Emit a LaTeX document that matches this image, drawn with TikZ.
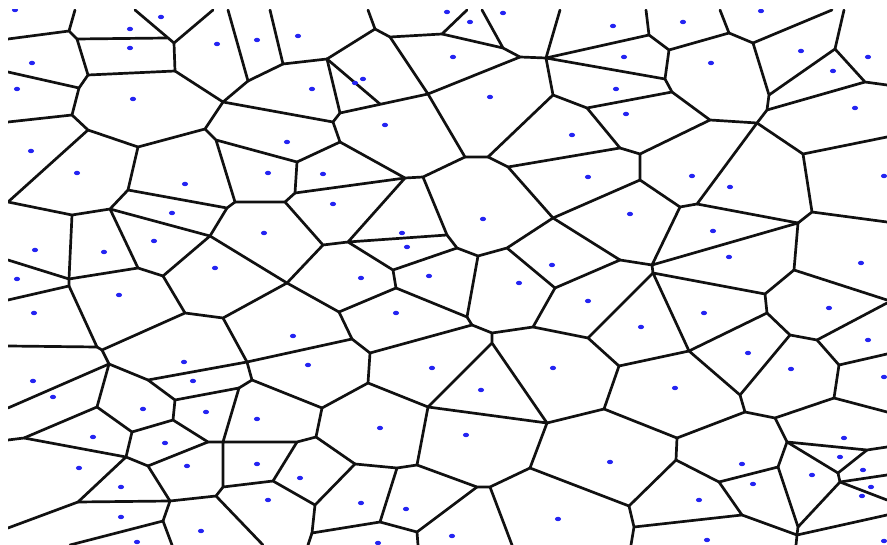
\documentclass[tikz,border=0pt]{standalone}
\usepackage{xcolor}
\usepackage{tikz}
\definecolor{wallInk}{HTML}{111111}
\definecolor{seedBlue}{HTML}{2424F2}
\tikzset{
  cellwall/.style={draw=wallInk, line width=2.3pt, line join=round, line cap=round},
  seed/.style={fill=seedBlue},
}
\begin{document}
\begin{tikzpicture}[x=0.03cm, y=-0.03cm]
  \useasboundingbox[fill=white] (0,0) rectangle (887,545);
  \begin{scope}
    \clip (8,10) rectangle (887,545);
    % upper left cells
    \draw[cellwall] (75,10) -- (69,31);
    \draw[cellwall] (8,39) -- (69,31) -- (77,39) -- (88,75) -- (79,88) -- (72,115) -- (88,130) -- (138,147) -- (205,129) -- (223,102) -- (248,81) -- (283,64) -- (327,59);
    \draw[cellwall] (77,39) -- (167,38);
    \draw[cellwall] (135,10) -- (174,43) -- (213,10);
    \draw[cellwall] (174,43) -- (175,71) -- (223,102);
    \draw[cellwall] (88,75) -- (175,71);
    \draw[cellwall] (8,72) -- (79,88);
    \draw[cellwall] (8,122) -- (72,115);
    \draw[cellwall] (228,10) -- (248,81);
    \draw[cellwall] (270,10) -- (283,64);
    \draw[cellwall] (223,102) -- (333,122);
    \draw[cellwall] (205,129) -- (216,140) -- (235,202) -- (285,202) -- (295,193) -- (297,162) -- (216,140);
    \draw[cellwall] (88,130) -- (8,202) -- (72,215) -- (110,209) -- (128,190) -- (138,147);
    \draw[cellwall] (128,190) -- (227,208) -- (235,202);
    \draw[cellwall] (227,208) -- (210,236) -- (110,209);
    \draw[cellwall] (210,236) -- (163,276);
    \draw[cellwall] (210,236) -- (287,283);
    \draw[cellwall] (110,209) -- (138,268) -- (163,276);
    \draw[cellwall] (72,215) -- (69,279) -- (69,286);
    \draw[cellwall] (8,260) -- (69,279) -- (138,268);
    \draw[cellwall] (163,276) -- (185,313);
    % upper middle cells
    \draw[cellwall] (368,10) -- (375,29) -- (327,59);
    \draw[cellwall] (375,29) -- (390,37) -- (442,34) -- (467,10);
    \draw[cellwall] (442,34) -- (503,48) -- (520,57) -- (546,58) -- (560,10);
    \draw[cellwall] (482,10) -- (503,48);
    \draw[cellwall] (546,58) -- (649,35);
    \draw[cellwall] (546,58) -- (665,79);
    \draw[cellwall] (546,58) -- (553,95) -- (587,108) -- (672,92);
    \draw[cellwall] (587,108) -- (620,148) -- (508,167);
    \draw[cellwall] (553,95) -- (488,157) -- (508,167) -- (553,218);
    \draw[cellwall] (390,37) -- (428,94) -- (520,57);
    \draw[cellwall] (428,94) -- (465,157) -- (488,157);
    \draw[cellwall] (327,59) -- (340,113) -- (428,94);
    \draw[cellwall] (327,59) -- (380,104);
    \draw[cellwall] (340,113) -- (333,122) -- (340,142) -- (297,162);
    \draw[cellwall] (340,142) -- (405,178) -- (423,177) -- (465,157);
    \draw[cellwall] (295,193) -- (405,178) -- (348,242) -- (447,235) -- (423,177);
    \draw[cellwall] (447,235) -- (457,248) -- (478,256) -- (507,248) -- (553,218);
    \draw[cellwall] (285,202) -- (323,245) -- (348,242);
    \draw[cellwall] (323,245) -- (287,283);
    \draw[cellwall] (348,242) -- (393,270) -- (457,248);
    \draw[cellwall] (393,270) -- (396,288);
    \draw[cellwall] (478,256) -- (467,317);
    \draw[cellwall] (507,248) -- (555,288);
    \draw[cellwall] (553,218) -- (640,180);
    \draw[cellwall] (553,218) -- (620,260) -- (555,288);
    \draw[cellwall] (620,260) -- (652,265) -- (653,273);
    % upper right cells
    \draw[cellwall] (646,10) -- (649,35) -- (669,50) -- (665,79) -- (672,92) -- (710,120) -- (757,123);
    \draw[cellwall] (669,50) -- (729,33) -- (720,10);
    \draw[cellwall] (729,33) -- (753,43) -- (832,10);
    \draw[cellwall] (753,43) -- (769,95) -- (767,110) -- (757,123);
    \draw[cellwall] (769,95) -- (835,49) -- (844,10);
    \draw[cellwall] (835,49) -- (865,82) -- (887,85);
    \draw[cellwall] (767,110) -- (865,82);
    \draw[cellwall] (757,123) -- (803,154) -- (887,137);
    \draw[cellwall] (803,154) -- (812,212) -- (887,222);
    \draw[cellwall] (812,212) -- (798,223) -- (794,270) -- (887,300);
    \draw[cellwall] (710,120) -- (640,154) -- (620,148);
    \draw[cellwall] (640,154) -- (640,180) -- (680,207) -- (697,204) -- (757,123);
    \draw[cellwall] (697,204) -- (798,223);
    \draw[cellwall] (680,207) -- (652,265) -- (798,223);
    \draw[cellwall] (653,273) -- (765,294) -- (794,270);
    \draw[cellwall] (653,273) -- (588,338);
    \draw[cellwall] (653,273) -- (689,351);
    % lower left cells
    \draw[cellwall] (8,300) -- (69,286) -- (97,347) -- (8,346);
    \draw[cellwall] (97,347) -- (102,350) -- (185,313) -- (223,318) -- (287,283);
    \draw[cellwall] (223,318) -- (247,362) -- (352,339);
    \draw[cellwall] (247,362) -- (252,380) -- (322,408);
    \draw[cellwall] (252,380) -- (239,388) -- (223,442);
    \draw[cellwall] (239,388) -- (175,400);
    \draw[cellwall] (102,350) -- (109,364) -- (8,408);
    \draw[cellwall] (109,364) -- (148,380) -- (247,362);
    \draw[cellwall] (148,380) -- (175,400) -- (173,420) -- (132,432);
    \draw[cellwall] (173,420) -- (208,442) -- (223,442);
    \draw[cellwall] (208,442) -- (148,466);
    \draw[cellwall] (109,364) -- (97,407) -- (24,438) -- (8,440);
    \draw[cellwall] (97,407) -- (132,432) -- (126,457) -- (24,438);
    \draw[cellwall] (126,457) -- (148,466) -- (170,501);
    \draw[cellwall] (126,457) -- (78,502) -- (8,528);
    \draw[cellwall] (78,502) -- (170,501) -- (216,496) -- (223,487) -- (223,442) -- (297,442) -- (316,437);
    \draw[cellwall] (223,487) -- (273,481) -- (297,442);
    \draw[cellwall] (273,481) -- (315,505);
    \draw[cellwall] (216,496) -- (263,545);
    \draw[cellwall] (170,501) -- (163,521) -- (70,545);
    \draw[cellwall] (163,521) -- (172,545);
    % lower middle cells
    \draw[cellwall] (339,312) -- (396,288) -- (467,317) -- (472,325) -- (492,333) -- (533,327) -- (555,288);
    \draw[cellwall] (339,312) -- (287,283);
    \draw[cellwall] (339,312) -- (352,339) -- (370,353) -- (368,383);
    \draw[cellwall] (370,353) -- (472,325);
    \draw[cellwall] (533,327) -- (588,338) -- (619,366);
    \draw[cellwall] (492,333) -- (492,343) -- (428,407) -- (547,423) -- (492,343);
    \draw[cellwall] (547,423) -- (604,409);
    \draw[cellwall] (547,423) -- (530,468) -- (629,506);
    \draw[cellwall] (530,468) -- (490,487) -- (477,487) -- (417,465);
    \draw[cellwall] (490,487) -- (512,545);
    \draw[cellwall] (477,487) -- (417,532) -- (418,545);
    \draw[cellwall] (417,532) -- (380,522) -- (397,468) -- (355,464);
    \draw[cellwall] (397,468) -- (417,465) -- (428,407);
    \draw[cellwall] (380,522) -- (312,533) -- (315,505) -- (355,464) -- (316,437) -- (322,408) -- (368,383) -- (428,407);
    \draw[cellwall] (312,533) -- (308,545);
    % lower right cells
    \draw[cellwall] (765,294) -- (767,313) -- (689,351) -- (619,366) -- (604,409) -- (677,438) -- (745,412) -- (740,395) -- (689,351);
    \draw[cellwall] (767,313) -- (790,335) -- (817,340) -- (887,303);
    \draw[cellwall] (817,340) -- (839,365) -- (887,354);
    \draw[cellwall] (839,365) -- (834,398) -- (887,412);
    \draw[cellwall] (834,398) -- (775,418) -- (745,412);
    \draw[cellwall] (790,335) -- (740,395);
    \draw[cellwall] (677,438) -- (676,460) -- (629,506) -- (634,527) -- (631,545);
    \draw[cellwall] (634,527) -- (742,515) -- (719,482) -- (676,460);
    \draw[cellwall] (719,482) -- (778,467) -- (787,442) -- (775,418);
    \draw[cellwall] (787,442) -- (867,450) -- (887,447);
    \draw[cellwall] (787,442) -- (838,473) -- (867,450);
    \draw[cellwall] (838,473) -- (840,482) -- (887,475);
    \draw[cellwall] (840,482) -- (887,500);
    \draw[cellwall] (840,482) -- (798,527) -- (778,467);
    \draw[cellwall] (798,527) -- (797,535) -- (742,515);
    \draw[cellwall] (797,535) -- (887,515);
    \draw[cellwall] (797,535) -- (796,545);
    % seeds
    \foreach \px/\py in {15/10, 161/17, 130/29, 130/48, 217/44, 257/40, 298/36, 32/63, 17/89, 133/99,
        31/151, 77/173, 185/184, 287/142, 268/173, 172/213, 154/241, 264/233, 35/250, 104/252,
        215/268, 17/279, 447/12, 470/22, 503/13, 453/57, 312/89, 355/83, 363/79, 490/97,
        385/125, 572/135, 323/174, 588/177, 333/204, 483/219, 402/233, 407/247, 552/265, 361/278,
        429/276, 613/26, 683/22, 761/11, 624/57, 711/63, 801/51, 833/71, 868/57, 616/89,
        626/114, 855/108, 692/176, 730/187, 884/176, 630/214, 713/231, 729/257, 861/263,
        119/295, 34/313, 293/336, 184/362, 193/381, 33/381, 53/397, 143/409, 206/412, 257/419,
        93/437, 165/443, 187/466, 257/464, 79/468, 121/487, 300/478, 268/500, 121/517, 201/531,
        137/542, 519/283, 588/301, 396/313, 308/365, 432/368, 553/368, 481/390, 380/428, 466/435,
        361/503, 406/509, 558/519, 452/536, 378/543, 641/327, 704/313, 748/353, 791/369, 829/308,
        868/340, 884/377, 675/388, 610/462, 742/464, 753/484, 699/500, 707/540, 884/541,
        844/438, 840/457, 812/475, 863/470, 871/487, 862/496}
      \fill[seed] (\px,\py) ellipse [x radius=2.6pt, y radius=1.9pt];
  \end{scope}
\end{tikzpicture}
\end{document}
